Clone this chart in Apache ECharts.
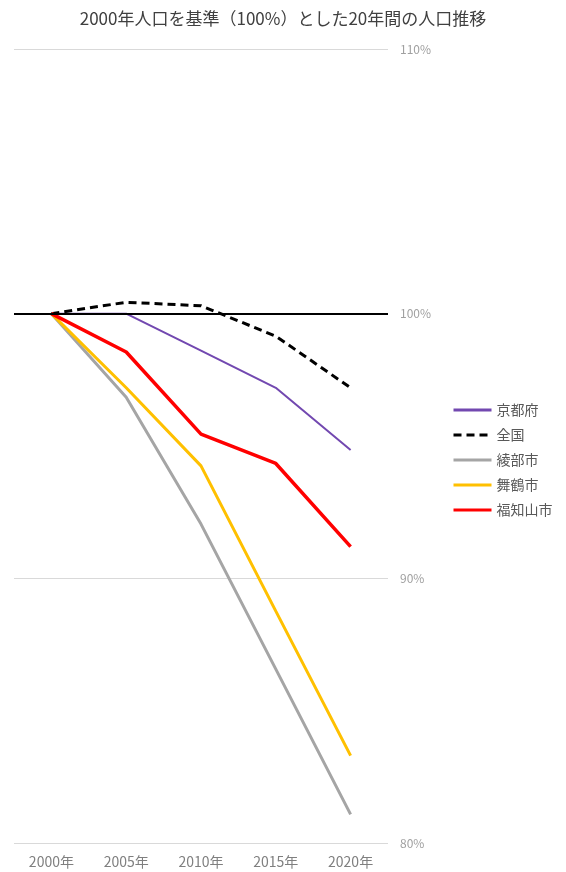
<!DOCTYPE html>
<html>
<head>
<meta charset="utf-8">
<script src="https://cdn.jsdelivr.net/npm/echarts@6/dist/echarts.min.js"></script>
<style>
  html, body { margin: 0; padding: 0; background: #fff; }
  #chart { width: 566px; height: 872px; }
</style>
</head>
<body>
<div id="chart"></div>
<script>
// 年次
const years = ['2000年', '2005年', '2010年', '2015年', '2020年']
// 2000年を100%とした人口比率
const kyotoFu = [100, 100, 98.6, 97.2, 94.85]
const zenkoku = [100, 100.43, 100.3, 99.15, 97.2]
const ayabe = [100, 96.84, 92.05, 86.57, 81.08]
const maizuru = [100, 97.2, 94.25, 88.76, 83.3]
const fukuchiyama = [100, 98.55, 95.45, 94.34, 91.2]

const chart = echarts.init(document.getElementById('chart'))
const font = '"Noto Sans CJK JP", sans-serif'

const option = {
  backgroundColor: '#fff',
  textStyle: { fontFamily: font },
  title: {
    text: '2000年人口を基準（100%）とした20年間の人口推移',
    left: 'center',
    top: 5,
    textStyle: { fontSize: 17, fontWeight: 'normal', color: '#404040', fontFamily: font }
  },
  legend: {
    orient: 'vertical',
    left: 447,
    top: 398,
    itemWidth: 38,
    itemHeight: 14,
    itemGap: 11,
    itemStyle: { opacity: 0 },
    lineStyle: { width: 3 },
    textStyle: { fontSize: 14, color: '#595959', fontFamily: font },
    data: ['京都府', '全国', '綾部市', '舞鶴市', '福知山市']
  },
  grid: {
    left: 14,
    right: 178,
    top: 49,
    bottom: 29
  },
  xAxis: {
    type: 'category',
    data: years,
    boundaryGap: true,
    axisLine: { show: false },
    axisTick: { show: false },
    axisLabel: { color: '#7f7f7f', fontSize: 14, margin: 12, fontFamily: font }
  },
  yAxis: {
    type: 'value',
    position: 'right',
    min: 80,
    max: 110,
    interval: 10,
    axisLine: { show: false },
    axisTick: { show: false },
    axisLabel: { formatter: '{value}%', color: '#a0a0a0', fontSize: 12, margin: 12, fontFamily: font },
    splitLine: { lineStyle: { color: '#d9d9d9', width: 1 } }
  },
  series: [
    {
      name: '京都府',
      type: 'line',
      data: kyotoFu,
      symbol: 'none',
      lineStyle: { color: '#7248b0', width: 2 },
      itemStyle: { color: '#7248b0' },
      markLine: {
        silent: true,
        symbol: 'none',
        label: { show: false },
        lineStyle: { color: '#000', width: 2, type: 'solid' },
        data: [{ yAxis: 100 }]
      }
    },
    {
      name: '全国',
      type: 'line',
      data: zenkoku,
      symbol: 'none',
      lineStyle: { color: '#000', width: 3, type: [8, 5] },
      itemStyle: { color: '#000' }
    },
    {
      name: '綾部市',
      type: 'line',
      data: ayabe,
      symbol: 'none',
      lineStyle: { color: '#a5a5a5', width: 3 },
      itemStyle: { color: '#a5a5a5' }
    },
    {
      name: '舞鶴市',
      type: 'line',
      data: maizuru,
      symbol: 'none',
      lineStyle: { color: '#ffc000', width: 3 },
      itemStyle: { color: '#ffc000' }
    },
    {
      name: '福知山市',
      type: 'line',
      data: fukuchiyama,
      symbol: 'none',
      lineStyle: { color: '#ff0000', width: 3.5 },
      itemStyle: { color: '#ff0000' }
    }
  ]
}
chart.setOption(option)
</script>
</body>
</html>
